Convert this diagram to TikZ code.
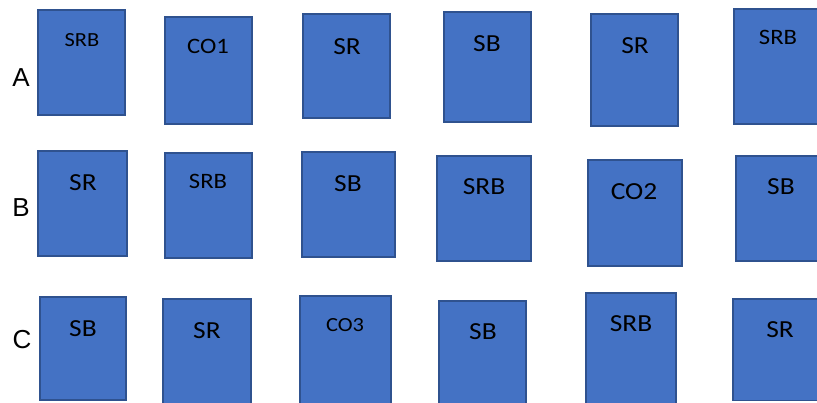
\documentclass[tikz,border=0pt]{standalone}
\usepackage{fontspec}
\setmainfont{Carlito}
\newfontfamily\boxfont[FakeStretch=1.12]{Carlito}
\newfontfamily\rowfont{Liberation Sans}
\definecolor{boxblue}{HTML}{4472C4}
\definecolor{boxedge}{HTML}{2F528F}

\begin{document}
\begin{tikzpicture}[x = 1pt, y = -1pt,
  boxfill/.style = {draw = boxedge, line width = 1.6pt, fill = boxblue},
  bigtext/.style = {font = \boxfont\fontsize{24.5}{26}\selectfont, inner sep = 0pt},
  midtext/.style = {font = \boxfont\fontsize{22}{24}\selectfont, inner sep = 0pt},
  smalltext/.style = {font = \boxfont\fontsize{20}{22}\selectfont, inner sep = 0pt},
  rowname/.style = {font = \rowfont\fontsize{26}{28}\selectfont, inner sep = 0pt}]
\path[use as bounding box, clip](0,0)rectangle(817,402);
% row letters
\node[rowname](rA)at(21,78){A};
\node[rowname](rB)at(21,208){B};
\node[rowname](rC)at(22,340){C};
% boxes: corners, text position, text, size
\foreach \n/\xa/\ya/\xb/\yb/\tx/\ty/\txt/\sz in {
  a1/38/10/125/115/82/40/SRB/smalltext,
  a2/165/17/252/124/208/46/CO1/midtext,
  a3/303/14/390/118/347/47/SR/bigtext,
  a4/444/12/531/122/487/43.5/SB/bigtext,
  a5/591/14/678/126/635/46/SR/bigtext,
  a6/734/9/830/124/778/37/SRB/midtext,
  b1/38/151/127/256/83/183/SR/bigtext,
  b2/165/153/252/258/208/181/SRB/midtext,
  b3/302/152/395/257/348/184/SB/bigtext,
  b4/437/156/531/261/484/187/SRB/bigtext,
  b5/588/160/682/266/634/192/CO2/bigtext,
  b6/736/156/830/261/781/187/SB/bigtext,
  c1/40/297/126/400/83/329/SB/bigtext,
  c2/163/299/251/410/207/331/SR/bigtext,
  c3/300/296/391/410/345/325/CO3/smalltext,
  c4/439/301/526/410/483/332/SB/bigtext,
  c5/586/293/676/410/631/324/SRB/bigtext,
  c6/733/299/830/400.5/780/330/SR/bigtext}{
  \path[boxfill](\xa,\ya)rectangle(\xb,\yb);
  \node[\sz](\n)at(\tx,\ty){\txt};
}
\end{tikzpicture}
\end{document}
